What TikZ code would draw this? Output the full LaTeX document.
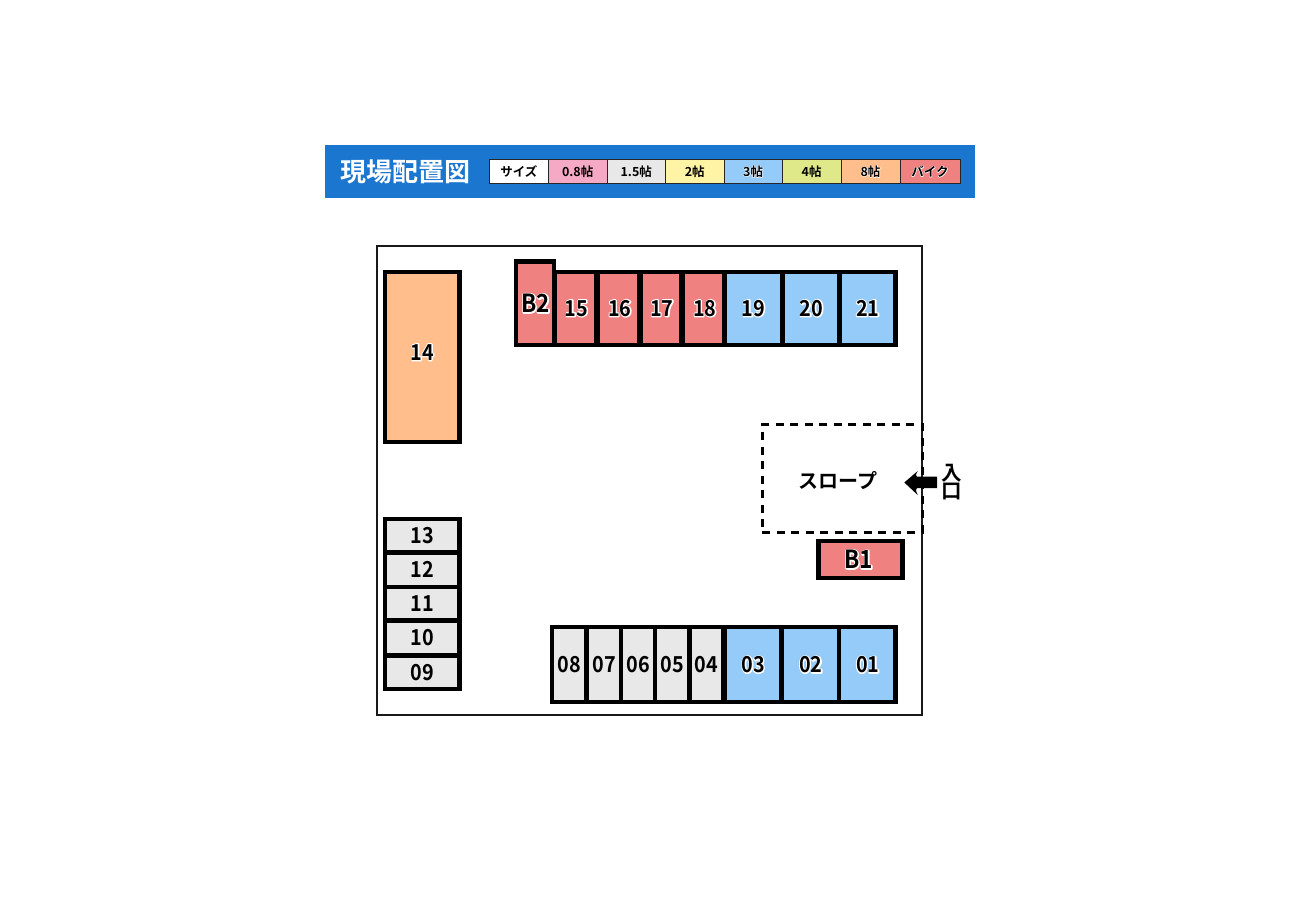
\documentclass[tikz,border=0pt]{standalone}
\usepackage{fontspec}
\setmainfont{Noto Sans CJK JP}[BoldFont={Noto Sans CJK JP Bold}]
\newcommand\halo[2][2.4]{\leavevmode\rlap{\special{pdf:code q 1 Tr #1 w 1 1 1 RG 1 j}#2\special{pdf:code Q}}#2}
\newcommand\numtxt[2]{\fontsize{#1}{#1}\bfseries\scalebox{.9}[1]{#2}}
\newcommand\entryfont{\fontsize{20.5}{20.5}\bfseries}
% shift a label inside its centred box by dx, dy pixels
\newcommand\nudge[3]{\hspace*{\dimexpr2pt*#1/10\relax}\raisebox{\dimexpr2pt*#2/10\relax}{#3}}
\definecolor{barblue}{HTML}{1B76CF}
\definecolor{cwhite}{HTML}{FFFFFF}
\definecolor{cpink}{HTML}{F6A9C5}
\definecolor{cgrey}{HTML}{E8E8E8}
\definecolor{cyellow}{HTML}{FFF3A6}
\definecolor{cblue}{HTML}{95CBF9}
\definecolor{cgreen}{HTML}{E0E98A}
\definecolor{corange}{HTML}{FFBE8C}
\definecolor{cred}{HTML}{F08181}
\tikzset{
  x=1pt,y=-1pt,
  boxstyle/.style={rectangle,draw=black,line width=4.4pt,inner sep=0pt,outer sep=0pt,text=black,font=\bfseries},
  legendstyle/.style={rectangle,draw=black!85,line width=1pt,inner sep=0pt,outer sep=0pt,text=black},
  frame/.style={draw=black!90,line width=2pt},
  slope/.style={draw=black,line width=3pt,dash pattern=on 8pt off 6.5pt},
  bar/.style={fill=barblue,draw=none}
}
% name x0 y0 x1 y1 (fill edges) colour label
\newcommand\cell[7]{%
  \pgfmathsetmacro\cw{#4-#2+4.4}\pgfmathsetmacro\ch{#5-#3+4.4}%
  \pgfmathsetmacro\cx{(#2+#4)/2}\pgfmathsetmacro\cy{(#3+#5)/2}%
  \node[boxstyle,fill=#6,minimum width=\cw pt,minimum height=\ch pt] (#1) at (\cx,\cy) {#7};}
\newcommand\legendcell[6]{%
  \pgfmathsetmacro\cw{#3-#2}\pgfmathsetmacro\cx{(#2+#3)/2}%
  \node[legendstyle,fill=#4,minimum width=\cw pt,minimum height=24pt] (#1) at (\cx,171.5) {\fontsize{#5}{#5}\bfseries #6};}
\begin{document}
\begin{tikzpicture}
\useasboundingbox (0,0) rectangle (1300,900);
% header
\fill[bar] (325,145) rectangle (975,197.5);
\node[text=white,inner sep=0pt] (title) at (405,172) {\fontsize{26}{26}\bfseries 現場配置図};
\legendcell{ls}{489.5}{548.3}{cwhite}{12.5}{サイズ}
\legendcell{l08}{548.3}{607}{cpink}{12.5}{0.8帖}
\legendcell{l15}{607}{665.5}{cgrey}{12.5}{1.5帖}
\legendcell{l2}{665.5}{724}{cyellow}{12.5}{2帖}
\legendcell{l3}{724}{782.3}{cblue}{12.5}{\halo[1]{3帖}}
\legendcell{l4}{782.3}{841}{cgreen}{12.5}{4帖}
\legendcell{l8}{841}{900}{corange}{12.5}{\halo[1]{8帖}}
\legendcell{lb}{900}{960}{cred}{12.5}{\halo[1]{バイク}}
% site frame
\draw[frame] (377,246) rectangle (922,714.7);
% ramp
\node[slope,rectangle,inner sep=0pt,minimum width=160pt,minimum height=107.5pt] (ramp) at (842.3,478.7) {};
\node[inner sep=0pt] (ramplabel) at (838,481) {\fontsize{20}{20}\bfseries スロープ};
\fill[black] (904.3,482.5) -- (917.7,471) .. controls (915.5,475) and (915.5,476) .. (917,476.7) -- (937,476.7) -- (937,488) -- (917,488) .. controls (915.5,489) and (915.5,490) .. (917.7,495) -- cycle;
\node[inner sep=0pt,align=center] (entry) at (952,482) {\entryfont 入\\\entryfont 口};
% left column
\cell{c14}{387.3}{274.3}{457.3}{440}{corange}{\numtxt{22}{\nudge{0}{50}{\halo{14}}}}
\cell{c13}{387.3}{521}{457.3}{550.3}{cgrey}{\numtxt{22}{13}}
\cell{c12}{387.3}{554.7}{457.3}{584.7}{cgrey}{\numtxt{22}{12}}
\cell{c11}{387.3}{589.3}{457.3}{618.3}{cgrey}{\numtxt{22}{11}}
\cell{c10}{387.3}{623.3}{457.3}{652.7}{cgrey}{\numtxt{22}{10}}
\cell{c09}{387.3}{657.7}{457.3}{687}{cgrey}{\numtxt{22}{09}}
% top row
\cell{c21}{841.5}{274.3}{893.3}{343}{cblue}{\numtxt{22}{\nudge{5}{5}{\halo{21}}}}
\cell{c20}{784.5}{274.3}{837}{343}{cblue}{\numtxt{22}{\nudge{10}{5}{\halo{20}}}}
\cell{c19}{727.3}{274.3}{780}{343}{cblue}{\numtxt{22}{\nudge{0}{5}{\halo{19}}}}
\cell{c18}{685.3}{274.3}{722.3}{343}{cred}{\numtxt{22}{\nudge{10}{5}{\halo{18}}}}
\cell{c17}{642.7}{274.3}{679.3}{343}{cred}{\numtxt{22}{\nudge{10}{5}{\halo{17}}}}
\cell{c16}{600}{274.3}{636.7}{343}{cred}{\numtxt{22}{\nudge{15}{5}{\halo{16}}}}
\cell{c15}{557.3}{274.3}{594}{343}{cred}{\numtxt{22}{\nudge{10}{5}{\halo{15}}}}
\cell{b2}{518}{263.7}{551.7}{343}{cred}{\numtxt{25}{\nudge{10}{-10}{\halo{B2}}}}
% B1
\cell{b1}{820.7}{543}{900.3}{576}{cred}{\numtxt{25}{\nudge{-20}{-20}{\halo{B1}}}}
% bottom row
\cell{c08}{554}{629.3}{584}{700}{cgrey}{\numtxt{22}{\nudge{5}{-10}{08}}}
\cell{c07}{588.7}{629.3}{618.7}{700}{cgrey}{\numtxt{22}{\nudge{5}{-10}{07}}}
\cell{c06}{623}{629.3}{652.7}{700}{cgrey}{\numtxt{22}{\nudge{5}{-10}{06}}}
\cell{c05}{657}{629.3}{686.7}{700}{cgrey}{\numtxt{22}{\nudge{5}{-10}{05}}}
\cell{c04}{691.7}{629.3}{721}{700}{cgrey}{\numtxt{22}{\nudge{0}{-10}{04}}}
\cell{c03}{727.3}{629.3}{779.3}{700}{cblue}{\numtxt{22}{\nudge{0}{-10}{\halo{03}}}}
\cell{c02}{784.3}{629.3}{836.7}{700}{cblue}{\numtxt{22}{\nudge{5}{-10}{\halo{02}}}}
\cell{c01}{841.3}{629.3}{893.3}{700}{cblue}{\numtxt{22}{\nudge{5}{-10}{\halo{01}}}}
\end{tikzpicture}
\end{document}
